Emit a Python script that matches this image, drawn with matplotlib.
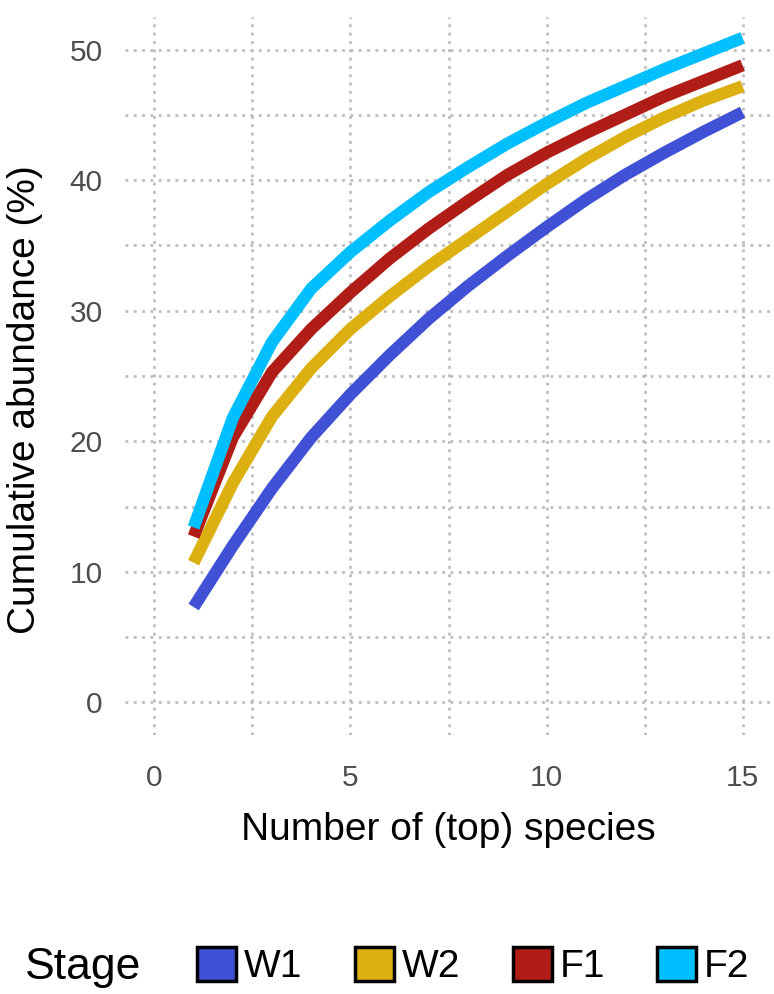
import matplotlib
matplotlib.use("Agg")
import matplotlib.pyplot as plt
from matplotlib.patches import Patch

plt.rcParams['font.family'] = ['Liberation Sans', 'DejaVu Sans']

n_species = list(range(1, 16))
stages = ["W1", "W2", "F1", "F2"]
colors = ["#4051D6", "#DDB012", "#B01C16", "#00BFFF"]
W1 = [7.3, 12.0, 16.4, 20.3, 23.6, 26.6, 29.4, 31.9, 34.2, 36.4, 38.5, 40.4, 42.1, 43.7, 45.2]
W2 = [10.7, 16.8, 21.9, 25.6, 28.6, 31.1, 33.4, 35.5, 37.6, 39.7, 41.6, 43.3, 44.8, 46.1, 47.2]
F1 = [12.7, 20.3, 25.3, 28.6, 31.4, 34.0, 36.3, 38.4, 40.4, 42.1, 43.6, 45.0, 46.4, 47.6, 48.8]
F2 = [13.4, 21.8, 27.6, 31.7, 34.5, 36.9, 39.1, 41.0, 42.8, 44.4, 45.9, 47.2, 48.5, 49.7, 50.9]
series = [W1, W2, F1, F2]
x_ticks = [0, 5, 10, 15]
y_ticks = [0, 10, 20, 30, 40, 50]

W, H = 774, 994
fig = plt.figure(figsize=(W / 100, H / 100), dpi=100)
ax = fig.add_axes([125 / W, 1 - 735 / H, (772 - 125) / W, (735 - 17) / H])

grid_kw = dict(color="#BDBDBD", linestyle=(0, (1, 2)), linewidth=2.0, zorder=0)
for xv in [0, 2.5, 5, 7.5, 10, 12.5, 15]:
    ax.axvline(xv, **grid_kw)
for yv in range(0, 51, 5):
    ax.axhline(yv, **grid_kw)

for ys, c in zip(series, colors):
    ax.plot(n_species, ys, color=c, linewidth=8.8, solid_capstyle="butt",
            solid_joinstyle="round", zorder=3)

ax.set_xlim(-0.75, 15.75)
ax.set_ylim(-2.5, 52.5)
ax.set_xticks(x_ticks)
ax.set_yticks(y_ticks)
ax.tick_params(axis="both", length=0, labelsize=21.5, labelcolor="#4D4D4D")
ax.tick_params(axis="y", pad=16)
ax.tick_params(axis="x", pad=21)
for s in ax.spines.values():
    s.set_visible(False)
ax.set_xlabel("Number of (top) species", fontsize=28, labelpad=14)
ax.set_ylabel("Cumulative abundance (%)", fontsize=28)
ax.yaxis.set_label_coords(-0.127, 0.467)

handles = [Patch(facecolor=c, edgecolor="black", linewidth=2.5) for c in colors]
fig.text(25 / W, 1 - 968 / H, "Stage", fontsize=32, va="center", ha="left")
fig.legend(handles, stages, loc="center left", bbox_to_anchor=(178 / W, 1 - 966 / H),
           ncol=4, frameon=False, fontsize=28, handlelength=1.0, handleheight=1.0,
           handletextpad=0.2, columnspacing=1.35, borderpad=0)

fig.savefig("out.png", dpi=100)
